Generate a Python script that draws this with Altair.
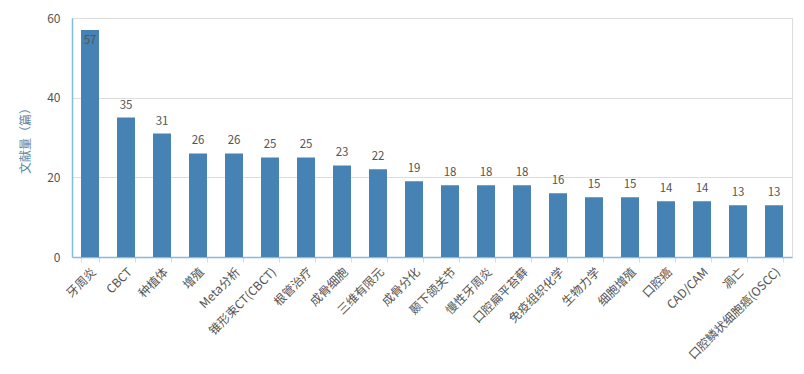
import altair as alt
import pandas as pd

categories = ["牙周炎", "CBCT", "种植体", "增殖", "Meta分析", "锥形束CT(CBCT)", "根管治疗",
              "成骨细胞", "三维有限元", "成骨分化", "颞下颌关节", "慢性牙周炎", "口腔扁平苔藓",
              "免疫组织化学", "生物力学", "细胞增殖", "口腔癌", "CAD/CAM", "凋亡",
              "口腔鳞状细胞癌(OSCC)"]
values = [57, 35, 31, 26, 26, 25, 25, 23, 22, 19, 18, 18, 18, 16, 15, 15, 14, 14, 13, 13]

df = pd.DataFrame({"keyword": categories, "count": values})
FONT = "Noto Sans CJK SC"

x = alt.X("keyword:N", sort=None, title=None,
          scale=alt.Scale(paddingInner=0.5, paddingOuter=0.25),
          axis=alt.Axis(labelAngle=-45, labelAlign="right", labelBaseline="top",
                        labelFontSize=12, labelColor="#555", labelFont=FONT,
                        tickBand="extent", tickColor="#cfdde8", tickSize=5,
                        domainColor="#7fbde0", domainWidth=1.5, labelPadding=4,
                        labelOverlap=False, labelLimit=300))
y = alt.Y("count:Q", title="文献量（篇）",
          scale=alt.Scale(domain=[0, 60]),
          axis=alt.Axis(values=[0, 20, 40, 60], ticks=False, labelPadding=12,
                        labelFontSize=12, labelColor="#555", labelFont=FONT,
                        gridColor="#dddddd", domainColor="#7fbde0", domainWidth=1.5,
                        titleColor="#5b85a8", titleFont=FONT, titleFontSize=12,
                        titleFontWeight="normal", titlePadding=14))

base = alt.Chart(df).encode(x=x, y=y)
bars = base.mark_bar(color="#4682b4")
labels_out = base.transform_filter("datum.count < 50").mark_text(
    baseline="bottom", dy=-7, fontSize=11.5, color="#555", font=FONT
).encode(text="count:Q")
labels_in = base.transform_filter("datum.count >= 50").mark_text(
    baseline="top", dy=5, fontSize=11.5, color="#555", font=FONT
).encode(text="count:Q")

chart = (bars + labels_out + labels_in).properties(
    width=720, height=239,
    autosize=alt.AutoSizeParams(type="none"),
    padding={"left": 64, "top": 10, "right": 4, "bottom": 109},
).configure_view(stroke=None).configure(background="white")

chart.save("out.html", embed_options={"renderer": "svg", "actions": False})
